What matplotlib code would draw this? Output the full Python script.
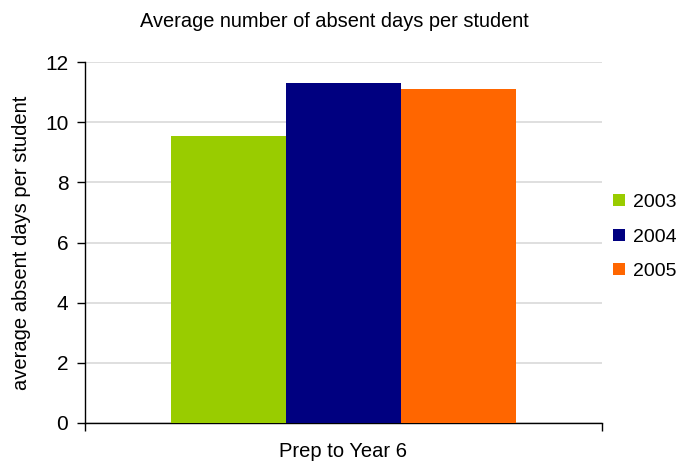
import numpy as np
import matplotlib.pyplot as plt

plt.rcParams['font.family'] = ['Liberation Sans', 'DejaVu Sans']

# absent days data
category = 'Prep to Year 6'
years = ['2003', '2004', '2005']
avg_absent = [9.54, 11.3, 11.1]
colours = ['#99CC00', '#000080', '#FF6600']

fig = plt.figure(figsize=(6.83, 4.63), dpi=100)
ax = fig.add_axes([0.1245, 0.0864, 0.7565, 0.7796])

width = 0.2225
offsets = (np.arange(len(years)) - 1) * width
for off, val, col, yr in zip(offsets, avg_absent, colours, years):
    ax.bar(off, val, width=width, color=col, label=yr, zorder=3)

ax.set_xlim(-0.5, 0.5)
ax.set_ylim(0, 12)
ax.set_yticks(range(0, 13, 2))
ax.set_xticks([-0.5, 0.5])
ax.set_xticklabels(['', ''])
ax.tick_params(axis='both', direction='out', length=6, width=1, labelsize=15,
               colors='black', pad=6)
ax.grid(axis='y', color='#d9d9d9', linewidth=1.2, zorder=0)
ax.spines['top'].set_visible(False)
ax.spines['right'].set_visible(False)
ax.spines['left'].set_linewidth(1)
ax.spines['bottom'].set_linewidth(1)

ax.text(0.5, -0.08, category, transform=ax.transAxes, ha='center', va='center', fontsize=14.5)
ax.set_ylabel('average absent days per student', fontsize=14.5, labelpad=10)
fig.suptitle('Average number of absent days per student', fontsize=14.4, x=0.49, y=0.953,
             va='center')

ax.legend(loc='center left', bbox_to_anchor=(1.0, 0.515), frameon=False, fontsize=14,
          handlelength=0.6, handleheight=0.6, handletextpad=0.4, labelspacing=0.9,
          borderaxespad=0.2, borderpad=0.4)

fig.savefig('out.png', dpi=100)
